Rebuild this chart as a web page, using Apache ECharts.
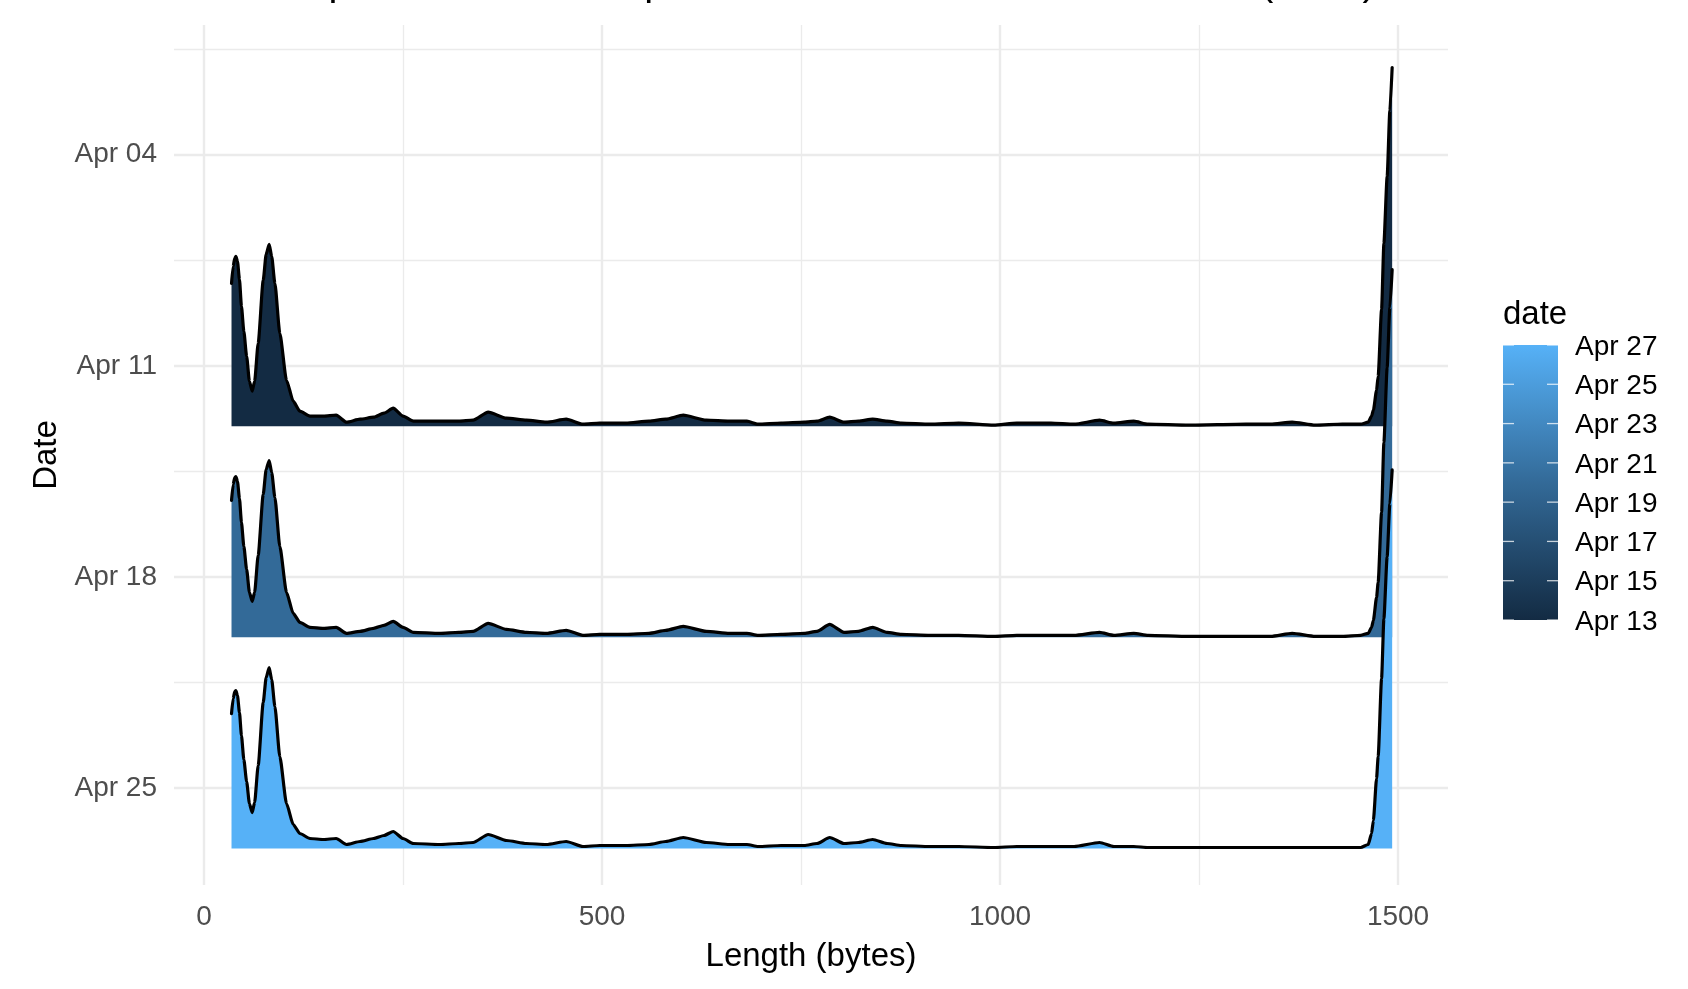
<!DOCTYPE html>
<html><head><meta charset="utf-8">
<script src="https://cdn.jsdelivr.net/npm/echarts@6/dist/echarts.min.js"></script>
<style>html,body{margin:0;padding:0;background:#fff;}#c{width:1688px;height:989px;}</style>
</head><body><div id="c"></div>
<script>
// ---------------- data ----------------
const chartTitle = 'Sample of normalised packet size distribution for UK ISP (2020)';
const xName = 'Length (bytes)';
const yName = 'Date';
const legendTitle = 'date';
const ridgeDates = ['Apr 13', 'Apr 20', 'Apr 27'];
const ridgeDays = [13, 20, 27];          // day of April
const lengths = [34.5, 36.6, 38.5, 40, 42, 44.5, 47, 50, 53.5, 57, 60.5, 63.5, 68, 74.3, 78, 81.8, 85, 89, 95.2, 103.6,
  112, 120.4, 133, 150, 166, 179, 196, 213, 226, 237.6, 250, 263, 296, 320, 338, 357, 380, 405, 430, 455,
  476, 497, 530, 559, 580, 602, 631, 660, 682, 696, 725, 754, 770, 786, 804, 822, 840, 858, 876, 912,
  948, 992, 1021, 1064, 1093, 1125, 1143, 1168, 1186, 1237, 1309, 1340, 1367, 1396, 1430, 1453, 1462.5, 1466.7, 1469, 1473,
  1475, 1479.3, 1482.2, 1486.3, 1489.7, 1492.6];
const densApr13 = [143, 160, 168, 170, 165, 147, 120, 95, 70, 45, 35, 45, 83, 146, 172, 182, 170, 143, 93, 46,
  25, 15, 10, 10, 11, 4, 7, 9, 13, 18, 10, 5, 5, 5, 6, 14, 8, 6, 4, 7,
  2, 3, 3, 5, 7, 11, 6, 5, 5, 2, 3, 4, 5, 9, 4, 5, 7, 5, 3, 2,
  3, 1, 3, 3, 2, 6, 3, 5, 2, 1, 2, 2, 4, 1, 2, 2, 4, 10, 16, 36,
  50, 117, 183, 250, 316, 359];
const densApr20 = [137, 153, 160, 161, 156, 139, 115, 91, 68, 45, 36, 45, 82, 143, 168, 177, 165, 140, 91, 45,
  24, 15, 10, 9, 10, 4, 6, 9, 12, 16, 10, 5, 4, 5, 6, 14, 8, 5, 4, 7,
  2, 3, 3, 4, 7, 11, 6, 4, 4, 2, 3, 4, 6, 13, 5, 6, 10, 5, 3, 2,
  2, 1, 2, 2, 2, 5, 2, 4, 2, 1, 1, 1, 4, 1, 1, 2, 4, 10, 17, 40,
  55, 125, 195, 270, 330, 368];
const densApr27 = [135, 150, 157, 158, 153, 136, 113, 89, 67, 45, 36, 46, 83, 146, 171, 181, 169, 142, 92, 45,
  24, 15, 10, 9, 10, 4, 7, 10, 13, 17, 10, 5, 4, 5, 6, 14, 8, 5, 4, 7,
  2, 3, 3, 4, 7, 11, 6, 4, 4, 2, 3, 3, 5, 11, 5, 6, 9, 5, 3, 2,
  2, 1, 2, 2, 2, 6, 2, 2, 1, 1, 1, 1, 1, 1, 1, 1, 4, 15, 28, 70,
  92, 170, 230, 292, 345, 379];
const xMajorTicks = [0, 500, 1000, 1500];
const xMinorTicks = [250, 750, 1250];
const yMajorTicks = [4, 11, 18, 25];       // Apr 04, 11, 18, 25
const yMinorTicks = [0.5, 7.5, 14.5, 21.5];
const legendLabels = ['Apr 27', 'Apr 25', 'Apr 23', 'Apr 21', 'Apr 19', 'Apr 17', 'Apr 15', 'Apr 13'];

// ---------------- style / scale ----------------
const FONT = '"Liberation Sans", Arial, Helvetica, sans-serif';
const X_MIN = -37.75, X_MAX = 1562.75;
const Y_MIN = -0.3, Y_MAX = 28.21;
const DENS_SCALE = 1 / 30.195;           // density units -> days
const ridgeColors = ['#132B43', '#336A98', '#56B1F7'];
const GRID_COLOR = '#EBEBEB';
const LEG = { x: 1503, y: 345, w: 55, h: 275 };

const ridgeDens = [densApr13, densApr20, densApr27];
const series = ridgeDens.map((d, i) => ({
  type: 'line', name: ridgeDates[i], z: 2 + i,
  data: lengths.map((x, j) => [x, ridgeDays[i] - d[j] * DENS_SCALE]),
  symbol: 'none', showSymbol: false, smooth: 0.2, smoothMonotone: 'x',
  lineStyle: { color: '#000', width: 3.2, join: 'round', cap: 'round' },
  areaStyle: { color: ridgeColors[i], opacity: 1, origin: ridgeDays[i] },
  silent: true, animation: false, clip: true
}));

const gl = (key, v, w) => ({ [key]: v, lineStyle: { color: GRID_COLOR, width: w, type: 'solid' } });
series[0].markLine = {
  z: 1, silent: true, symbol: ['none', 'none'], label: { show: false }, animation: false,
  emphasis: { disabled: true },
  data: [
    ...xMinorTicks.map(v => gl('xAxis', v, 1.3)),
    ...yMinorTicks.map(v => gl('yAxis', v, 1.3)),
    ...xMajorTicks.map(v => gl('xAxis', v, 2.4)),
    ...yMajorTicks.map(v => gl('yAxis', v, 2.4))
  ]
};

const graphic = [
  { type: 'text', x: 811, y: -16, silent: true,
    style: { text: chartTitle, fontSize: 40, fontFamily: FONT, fill: '#000', align: 'center', verticalAlign: 'middle' } },
  { type: 'text', x: LEG.x, y: 315, silent: true,
    style: { text: legendTitle, fontSize: 33, fontFamily: FONT, fill: '#000', align: 'left', verticalAlign: 'middle' } },
  { type: 'rect', x: LEG.x, y: LEG.y, silent: true, shape: { width: LEG.w, height: LEG.h },
    style: { fill: new echarts.graphic.LinearGradient(0, 0, 0, 1, [
      { offset: 0, color: ridgeColors[2] }, { offset: 0.5, color: ridgeColors[1] }, { offset: 1, color: ridgeColors[0] }]) } }
];
legendLabels.forEach((lab, i) => {
  const y = LEG.y + i * LEG.h / (legendLabels.length - 1);
  graphic.push({ type: 'line', silent: true, shape: { x1: LEG.x, y1: y, x2: LEG.x + 11, y2: y },
    style: { stroke: 'rgba(255,255,255,0.75)', lineWidth: 1.3 } });
  graphic.push({ type: 'line', silent: true, shape: { x1: LEG.x + LEG.w - 11, y1: y, x2: LEG.x + LEG.w, y2: y },
    style: { stroke: 'rgba(255,255,255,0.75)', lineWidth: 1.3 } });
  graphic.push({ type: 'text', x: LEG.x + 72, y: y + 2, silent: true,
    style: { text: lab, fontSize: 28, fontFamily: FONT, fill: '#000', align: 'left', verticalAlign: 'middle' } });
});

const chart = echarts.init(document.getElementById('c'), null, { renderer: 'canvas' });
chart.setOption({
  animation: false,
  backgroundColor: '#fff',
  grid: { left: 174, right: 240, top: 25, bottom: 104, containLabel: false, outerBoundsMode: 'none' },
  xAxis: {
    type: 'value', min: X_MIN, max: X_MAX,
    name: xName, nameLocation: 'middle', nameGap: 55,
    nameTextStyle: { fontSize: 33, color: '#000', fontFamily: FONT },
    axisLine: { show: false }, axisTick: { show: false }, splitLine: { show: false },
    axisLabel: { customValues: xMajorTicks, formatter: v => String(v), fontSize: 28, color: '#4D4D4D', margin: 18, fontFamily: FONT }
  },
  yAxis: {
    type: 'value', inverse: true, min: Y_MIN, max: Y_MAX,
    name: yName, nameLocation: 'middle', nameGap: 109,
    nameTextStyle: { fontSize: 33, color: '#000', fontFamily: FONT },
    axisLine: { show: false }, axisTick: { show: false }, splitLine: { show: false },
    axisLabel: { customValues: yMajorTicks, formatter: v => 'Apr ' + String(Math.round(v)).padStart(2, '0'),
      fontSize: 28, color: '#4D4D4D', margin: 17, fontFamily: FONT, padding: [4, 0, 0, 0] }
  },
  graphic: graphic,
  series: series
});
</script></body></html>
